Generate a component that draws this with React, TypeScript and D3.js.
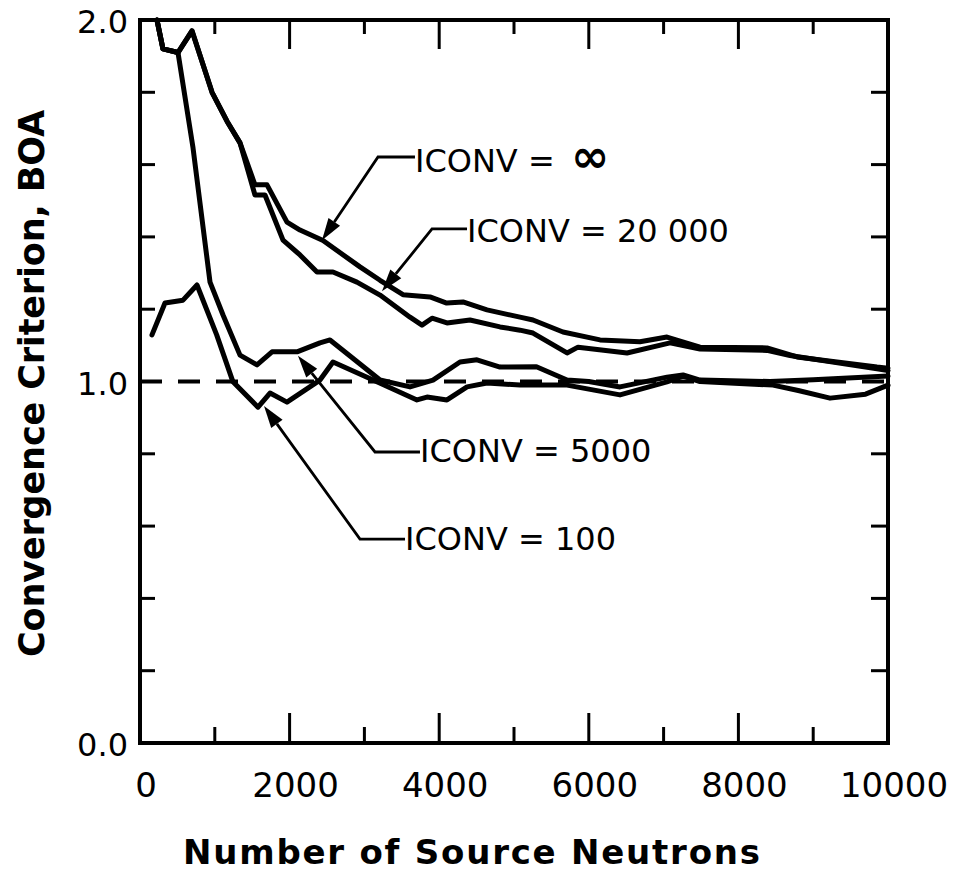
import React, { useRef, useEffect } from 'react';
import * as d3 from 'd3';

// readings: [number of source neutrons, BOA]
const iconvInfinity: [number, number][] = [
  [227, 2.0], [307, 1.92], [508, 1.91], [695, 1.97], [963, 1.8], [1163, 1.72],
  [1337, 1.66], [1537, 1.544], [1698, 1.544], [1965, 1.441], [2139, 1.419],
  [2447, 1.39], [2941, 1.317], [3209, 1.28], [3516, 1.24], [3877, 1.234],
  [4100, 1.217], [4318, 1.22], [4639, 1.198], [5080, 1.178], [5254, 1.17],
  [5655, 1.137], [6150, 1.115], [6684, 1.11], [7045, 1.123], [7487, 1.095],
  [8382, 1.093], [8783, 1.068], [9853, 1.04], [10000, 1.037]
];

const iconv20000: [number, number][] = [
  [227, 2.0], [307, 1.92], [508, 1.91], [695, 1.97], [963, 1.8], [1163, 1.72],
  [1337, 1.66], [1537, 1.516], [1671, 1.516], [1912, 1.391], [2139, 1.35],
  [2366, 1.303], [2580, 1.303], [2900, 1.275], [3209, 1.239], [3610, 1.178],
  [3770, 1.156], [3904, 1.175], [4104, 1.162], [4412, 1.17], [4813, 1.151],
  [5080, 1.142], [5254, 1.134], [5709, 1.079], [5856, 1.095], [6511, 1.079],
  [7086, 1.107], [7487, 1.09], [8382, 1.086], [8690, 1.072], [9853, 1.035],
  [10000, 1.03]
];

const iconv5000: [number, number][] = [
  [227, 2.0], [307, 1.92], [508, 1.91], [709, 1.646], [936, 1.275], [1110, 1.184],
  [1337, 1.073], [1564, 1.046], [1765, 1.082], [2099, 1.082], [2406, 1.107],
  [2540, 1.115], [3209, 1.004], [3610, 0.985], [3917, 1.004], [4278, 1.054],
  [4505, 1.06], [4813, 1.04], [5300, 1.041], [5709, 1.004], [6000, 1.0],
  [6417, 0.985], [7045, 1.012], [7260, 1.018], [7487, 1.004], [8422, 1.0],
  [9000, 1.005], [10000, 1.015]
];

const iconv100: [number, number][] = [
  [160, 1.129], [334, 1.217], [575, 1.225], [762, 1.267], [1025, 1.129],
  [1243, 0.999], [1578, 0.929], [1738, 0.968], [1965, 0.943], [2406, 1.004],
  [2580, 1.054], [3035, 1.012], [3703, 0.949], [3837, 0.957], [4104, 0.949],
  [4372, 0.985], [4639, 0.996], [5080, 0.99], [5709, 0.99], [6417, 0.963],
  [7045, 0.999], [7260, 1.015], [7487, 1.0], [8463, 0.99], [8800, 0.975],
  [9225, 0.954], [9700, 0.965], [10000, 0.99]
];

const xTickLabels = ['0', '2000', '4000', '6000', '8000', '10000'];
const yTickLabels = ['0.0', '1.0', '2.0'];
const seriesNames = ['ICONV = ', 'ICONV = 20 000', 'ICONV = 5000', 'ICONV = 100'];

function ConvergenceChart({ width = 955, height = 874 }) {
  const svgRef = useRef<SVGSVGElement | null>(null);

  useEffect(() => {
    const svg = d3.select(svgRef.current);
    svg.selectAll('*').remove();

    const x = d3.scaleLinear().domain([0, 10000]).range([140, 888]);
    const y = d3.scaleLinear().domain([0, 2]).range([743, 20]);
    const font = '"DejaVu Sans", sans-serif';

    const g = svg.append('g');

    // frame
    g.append('rect')
      .attr('x', x(0))
      .attr('y', y(2))
      .attr('width', x(10000) - x(0))
      .attr('height', y(0) - y(2))
      .attr('fill', 'none')
      .attr('stroke', '#000')
      .attr('stroke-width', 4);

    // inward ticks on all four sides
    const xt = d3.range(1000, 10000, 1000);
    xt.forEach(v => {
      const major = v % 2000 === 0;
      g.append('line')
        .attr('x1', x(v)).attr('x2', x(v))
        .attr('y1', y(0)).attr('y2', y(0) - (major ? 30 : 16))
        .attr('stroke', '#000').attr('stroke-width', 3);
      g.append('line')
        .attr('x1', x(v)).attr('x2', x(v))
        .attr('y1', y(2)).attr('y2', y(2) + (major ? 29 : 14))
        .attr('stroke', '#000').attr('stroke-width', 3);
    });
    const yt = d3.range(0.2, 2, 0.2).filter(v => Math.abs(v - 1) > 0.01);
    yt.forEach(v => {
      g.append('line')
        .attr('x1', x(0)).attr('x2', x(0) + 15)
        .attr('y1', y(v)).attr('y2', y(v))
        .attr('stroke', '#000').attr('stroke-width', 3);
      g.append('line')
        .attr('x1', x(10000)).attr('x2', x(10000) - 17)
        .attr('y1', y(v)).attr('y2', y(v))
        .attr('stroke', '#000').attr('stroke-width', 3);
    });

    // tick labels
    g.selectAll('.xlab')
      .data(xTickLabels)
      .enter()
      .append('text')
      .attr('x', d => x(+d) + 6)
      .attr('y', 797)
      .attr('text-anchor', 'middle')
      .style('font-family', font)
      .style('font-size', '34px')
      .text(d => d);

    g.selectAll('.ylab')
      .data(yTickLabels)
      .enter()
      .append('text')
      .attr('x', 128)
      .attr('y', d => y(+d) + 13)
      .attr('text-anchor', 'end')
      .style('font-family', font)
      .style('font-size', '32px')
      .text(d => d);

    // axis titles
    g.append('text')
      .attr('x', 183)
      .attr('y', 864)
      .attr('textLength', 577)
      .attr('lengthAdjust', 'spacing')
      .style('font-family', font)
      .style('font-weight', 'bold')
      .style('font-size', '34px')
      .text('Number of  Source  Neutrons');

    g.append('text')
      .attr('transform', 'translate(44,657) rotate(-90)')
      .attr('textLength', 547)
      .attr('lengthAdjust', 'spacing')
      .style('font-family', font)
      .style('font-weight', 'bold')
      .style('font-size', '35px')
      .text('Convergence  Criterion,  BOA');

    // reference line at BOA = 1
    g.append('line')
      .attr('x1', x(0)).attr('x2', x(10000))
      .attr('y1', y(1)).attr('y2', y(1))
      .attr('stroke', '#000')
      .attr('stroke-width', 4)
      .attr('stroke-dasharray', '22,16');

    // curves
    const line = d3.line<[number, number]>()
      .x(d => x(d[0]))
      .y(d => y(d[1]));

    [iconvInfinity, iconv20000, iconv5000, iconv100].forEach(s => {
      g.append('path')
        .attr('d', line(s))
        .attr('fill', 'none')
        .attr('stroke', '#000')
        .attr('stroke-width', 5)
        .attr('stroke-linejoin', 'round')
        .attr('stroke-linecap', 'round');
    });

    // labels with leader arrows (data coordinates)
    const notes = [
      { tip: [2433, 1.391], elbow: [3182, 1.621], textX: 3676, baseline: 172 },
      { tip: [3235, 1.25], elbow: [3904, 1.422], textX: 4372, baseline: 242 },
      { tip: [2112, 1.071], elbow: [3142, 0.805], textX: 3743, baseline: 462 },
      { tip: [1658, 0.932], elbow: [2941, 0.564], textX: 3543, baseline: 550 }
    ];

    notes.forEach((n, i) => {
      const tx = x(n.tip[0]), ty = y(n.tip[1]);
      const ex = x(n.elbow[0]), ey = y(n.elbow[1]);
      const lx = x(n.textX);
      const ang = Math.atan2(ey - ty, ex - tx);
      const len = 22, half = 7;
      const bx = tx + Math.cos(ang) * len, by = ty + Math.sin(ang) * len;
      const px = -Math.sin(ang) * half, py = Math.cos(ang) * half;

      g.append('path')
        .attr('d', `M${lx},${ey}L${ex},${ey}L${bx},${by}`)
        .attr('fill', 'none')
        .attr('stroke', '#000')
        .attr('stroke-width', 2.8);

      g.append('path')
        .attr('d', `M${tx},${ty}L${bx + px},${by + py}L${bx - px},${by - py}Z`)
        .attr('fill', '#000');

      const t = g.append('text')
        .attr('x', lx)
        .attr('y', n.baseline)
        .style('font-family', font)
        .style('font-size', '32px')
        .text(seriesNames[i]);
      if (i === 0) {
        // the infinity sign is drawn large and heavy in the original
        t.append('tspan')
          .attr('dx', 6)
          .style('font-size', '46px')
          .style('font-weight', 'bold')
          .text('\u221E');
      }
    });
  }, [width, height]);

  return (
    <svg
      ref={svgRef}
      width={width}
      height={height}
      style={{ position: 'absolute', left: 0, top: 0, background: '#fff' }}
    />
  );
}

export default function App() {
  return <ConvergenceChart />;
}
